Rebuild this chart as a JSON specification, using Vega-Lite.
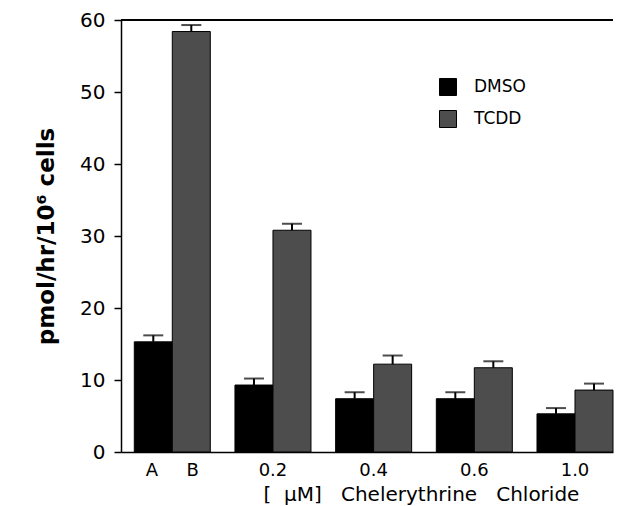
{
  "$schema": "https://vega.github.io/schema/vega-lite/v6.json",
  "width": 492,
  "height": 432,
  "autosize": {"type": "none"},
  "padding": {"left": 121, "top": 20, "right": 5, "bottom": 54},
  "background": "white",
  "config": {"view": {"stroke": null}, "font": "DejaVu Sans"},
  "data": {
    "values": [
      {"conc": "ctrl", "trt": "DMSO", "mean": 15.3, "upper": 16.2},
      {"conc": "ctrl", "trt": "TCDD", "mean": 58.4, "upper": 59.3},
      {"conc": "0.2", "trt": "DMSO", "mean": 9.3, "upper": 10.2},
      {"conc": "0.2", "trt": "TCDD", "mean": 30.8, "upper": 31.7},
      {"conc": "0.4", "trt": "DMSO", "mean": 7.4, "upper": 8.3},
      {"conc": "0.4", "trt": "TCDD", "mean": 12.2, "upper": 13.4},
      {"conc": "0.6", "trt": "DMSO", "mean": 7.4, "upper": 8.3},
      {"conc": "0.6", "trt": "TCDD", "mean": 11.7, "upper": 12.6},
      {"conc": "1.0", "trt": "DMSO", "mean": 5.3, "upper": 6.1},
      {"conc": "1.0", "trt": "TCDD", "mean": 8.6, "upper": 9.5}
    ]
  },
  "layer": [
    {
      "mark": {"type": "bar", "stroke": "black", "strokeWidth": 1},
      "encoding": {
        "x": {
          "field": "conc", "type": "nominal",
          "sort": ["ctrl", "0.2", "0.4", "0.6", "1.0"],
          "scale": {"paddingInner": 0.245, "paddingOuter": 0.066, "align": 1},
          "axis": {
            "labelExpr": "datum.value == 'ctrl' ? 'A\u00a0\u00a0\u00a0\u00a0\u00a0B' : datum.value",
            "labelAngle": 0,
            "labelFontSize": 18,
            "labelColor": "black",
            "labelPadding": 9,
            "labelBaseline": "top",
            "ticks": false,
            "domainColor": "black",
            "domainWidth": 1.5,
            "title": "[\u00a0\u00a0µM]\u00a0\u00a0\u00a0Chelerythrine\u00a0\u00a0\u00a0Chloride",
            "titleFontSize": 20,
            "titleFontWeight": "normal",
            "titleColor": "black",
            "titleX": 300,
            "titleY": 48,
            "titleAlign": "center",
            "titleBaseline": "alphabetic"
          }
        },
        "xOffset": {"field": "trt", "type": "nominal", "sort": ["DMSO", "TCDD"], "scale": {"paddingInner": 0, "paddingOuter": 0}},
        "y": {
          "field": "mean", "type": "quantitative",
          "scale": {"domain": [0, 60], "nice": false},
          "axis": {
            "values": [0, 5, 10, 15, 20, 25, 30, 35, 40, 45, 50, 55, 60],
            "labelExpr": "datum.value % 10 === 0 ? datum.label : ''",
            "tickSize": {"condition": {"test": "datum.value % 10 !== 0", "value": 3}, "value": 7},
            "tickColor": "black",
            "tickWidth": 1.5,
            "domainColor": "black",
            "domainWidth": 1.5,
            "grid": false,
            "labelFontSize": 20,
            "labelColor": "black",
            "labelPadding": 9,
            "title": "pmol/hr/10⁶ cells",
            "titleFontSize": 23,
            "titleFontWeight": "bold",
            "titleColor": "black",
            "titlePadding": 21
          }
        },
        "color": {
          "field": "trt", "type": "nominal",
          "scale": {"domain": ["DMSO", "TCDD"], "range": ["#000000", "#4d4d4d"]},
          "legend": {
            "orient": "none",
            "legendX": 318,
            "legendY": 58,
            "title": null,
            "symbolType": "square",
            "symbolSize": 289,
            "symbolStrokeColor": "black",
            "symbolStrokeWidth": 1,
            "labelFontSize": 17,
            "labelColor": "black",
            "labelOffset": 17,
            "rowPadding": 10
          }
        }
      }
    },
    {
      "mark": {"type": "rule", "strokeWidth": 2, "color": "black"},
      "encoding": {
        "x": {"field": "conc", "type": "nominal", "sort": ["ctrl", "0.2", "0.4", "0.6", "1.0"]},
        "xOffset": {"field": "trt", "type": "nominal", "sort": ["DMSO", "TCDD"]},
        "y": {"field": "mean", "type": "quantitative"},
        "y2": {"field": "upper"}
      }
    },
    {
      "mark": {"type": "tick", "orient": "horizontal", "size": 20, "thickness": 2, "color": "black"},
      "encoding": {
        "x": {"field": "conc", "type": "nominal", "sort": ["ctrl", "0.2", "0.4", "0.6", "1.0"]},
        "xOffset": {"field": "trt", "type": "nominal", "sort": ["DMSO", "TCDD"]},
        "y": {"field": "upper", "type": "quantitative"}
      }
    },
    {
      "mark": {"type": "rule", "strokeWidth": 1.5, "color": "black"},
      "encoding": {"y": {"datum": 60}}
    }
  ]
}
